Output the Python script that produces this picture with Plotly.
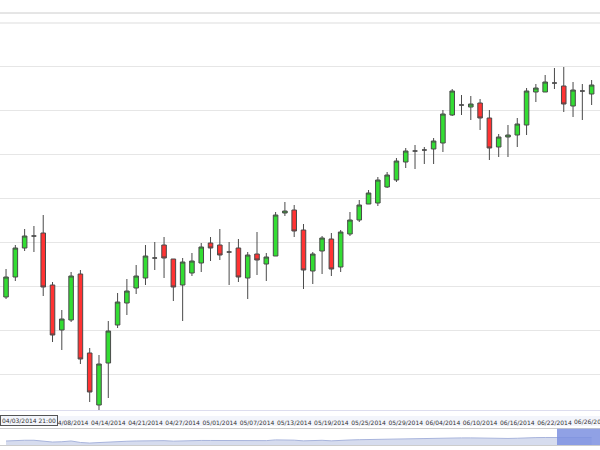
import plotly.graph_objects as go

opens  = [203,223,252,264,267,215,170,180,226,147,95,137,175,197,212,222,242,255,241,215,227,237,257,255,248,252,222,246,236,244,287,290,270,229,249,261,233,266,280,296,297,313,320,338,349,350,351,357,385,395,393,397,382,353,363,365,375,408,408,417,414,394,409,406]
highs  = [231,255,271,274,285,218,190,228,230,152,145,179,207,221,235,255,258,263,241,242,247,257,263,271,258,261,248,268,247,288,298,295,276,248,264,267,270,288,300,310,323,328,342,352,355,353,362,390,411,405,404,401,390,366,375,382,412,416,425,432,433,418,416,420]
lows   = [201,219,249,248,204,158,150,178,136,98,90,102,172,185,206,215,230,222,199,179,224,228,239,240,215,218,201,225,219,244,284,263,211,216,226,224,228,264,278,296,294,312,318,332,331,336,336,348,384,385,380,370,340,343,343,353,365,398,408,411,388,383,380,395]
closes = [223,252,264,264,213,165,181,224,141,108,136,169,198,209,224,244,242,242,213,238,239,253,252,245,248,223,245,240,243,285,289,269,230,246,262,231,268,280,295,307,320,325,339,349,349,350,359,386,409,395,396,382,352,363,365,376,409,412,418,417,396,410,409,415]
grid_vals = [126,170,214,258,302,346,390,434]
tick_idx = [7,11,15,19,23,27,31,35,39,43,47,51,55,59]
tick_text = ["04/08/2014","04/14/2014","04/21/2014","04/27/2014","05/01/2014","05/07/2014","05/13/2014",
             "05/19/2014","05/25/2014","05/29/2014","06/04/2014","06/10/2014","06/16/2014","06/22/2014"]
last_tick_idx = 63
last_tick_text = "06/26/2014"
idx = list(range(len(opens)))

fig = go.Figure()
fig.add_trace(go.Candlestick(x=idx, open=opens, high=highs, low=lows, close=closes,
    increasing=dict(fillcolor="#33dd33", line=dict(color="#4a4a4a", width=1)),
    decreasing=dict(fillcolor="#ff3333", line=dict(color="#4a4a4a", width=1)),
    whiskerwidth=0, showlegend=False, xaxis="x", yaxis="y"))
fig.add_trace(go.Scatter(x=idx, y=closes, mode="lines", fill="tozeroy",
    line=dict(color="#a8b4dc", width=1), fillcolor="#d6dcee", showlegend=False,
    xaxis="x2", yaxis="y2", hoverinfo="skip"))

fig.update_layout(
    width=600, height=450, margin=dict(l=0, r=0, t=60, b=5, autoexpand=False),
    paper_bgcolor="white", plot_bgcolor="white",
    font=dict(family="DejaVu Sans", size=6, color="#333"),
    xaxis=dict(range=[-0.65, 63.9], rangeslider=dict(visible=False), showgrid=False,
               tickvals=tick_idx, ticktext=tick_text, ticks="", zeroline=False, tickangle=0,
               ticklabelstandoff=7, automargin=False, showline=True, linecolor="#dde", anchor="y"),
    yaxis=dict(domain=[0.0909, 1], range=[90, 440], tickvals=grid_vals, automargin=False,
               showgrid=True, gridcolor="#e6e6e6", showticklabels=False, zeroline=False),
    xaxis2=dict(range=[-0.65, 63.9], showticklabels=False, showgrid=False, zeroline=False,
                automargin=False, anchor="y2", showline=True, linecolor="#ccc", mirror=True),
    yaxis2=dict(domain=[0, 0.042], range=[0, 900], showticklabels=False, showgrid=False,
                automargin=False, zeroline=False),
    shapes=[
        dict(type="line", xref="paper", yref="paper", x0=0, x1=1, y0=1+47/385, y1=1+47/385,
             line=dict(color="#cccccc", width=1)),
        dict(type="line", xref="paper", yref="paper", x0=0, x1=1, y0=1+37/385, y1=1+37/385,
             line=dict(color="#dddddd", width=1)),
        dict(type="rect", xref="paper", yref="paper", x0=0, x1=1, y0=0.0909-16/385, y1=0.0909-6/385,
             fillcolor="#f3f5fb", line=dict(width=0), layer="below"),
        dict(type="rect", xref="paper", yref="paper", x0=557/600, x1=1, y0=0, y1=0.042,
             fillcolor="#7d90e0", opacity=0.85, line=dict(width=0)),
    ],
    annotations=[
        dict(text="04/03/2014 21:00", xref="paper", yref="paper", x=0, y=0.0909,
             xanchor="left", yanchor="top", yshift=-5, showarrow=False,
             bordercolor="#555", borderwidth=1, borderpad=1, bgcolor="#f3f5fb",
             font=dict(size=6, color="#333")),
        dict(text=last_tick_text, x=last_tick_idx, xref="x", yref="paper", y=0.0909,
             yanchor="top", yshift=-6, showarrow=False, font=dict(size=6, color="#333")),
    ],
)
fig.write_html("out.html", config={"displayModeBar": False})
with open("out.html", encoding="utf-8") as f:
    html = f.read()
html = html.replace("<head>", "<head><style>body{margin:0;overflow:hidden}</style>", 1)
with open("out.html", "w", encoding="utf-8") as f:
    f.write(html)
